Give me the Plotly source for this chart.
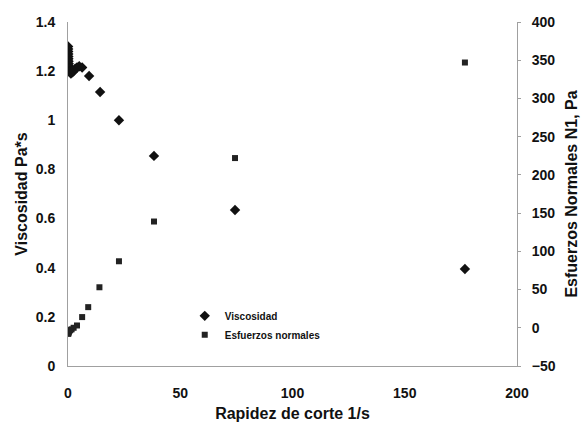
import plotly.graph_objects as go

# Viscosity vs shear rate
shear_visc = [0.05, 0.08, 0.1, 0.13, 0.16, 0.2, 0.25, 0.32, 0.4, 0.5, 0.63, 0.8, 1.0,
              1.3, 1.6, 2.0, 2.5, 3.2, 4.0, 5.0, 6.3, 9.4, 14.3, 22.7, 38.3, 74.4, 176.8]
viscosity = [1.30, 1.29, 1.28, 1.27, 1.26, 1.25, 1.24, 1.23, 1.22, 1.21, 1.21, 1.20, 1.20,
             1.19, 1.20, 1.195, 1.20, 1.21, 1.215, 1.22, 1.215, 1.18, 1.115, 1.0, 0.855, 0.635, 0.395]

# Normal stresses vs shear rate
shear_n1 = [0.1, 0.16, 0.25, 0.4, 0.63, 1.0, 1.6, 2.5, 4.0, 6.3, 9.0, 14.0, 22.7, 38.3, 74.4, 176.8]
normal_n1 = [-8, -7, -6, -5, -4, -3, -2, 0, 3, 14, 27, 53, 87, 139, 222, 347]

x_ticks = [0, 50, 100, 150, 200]

FONT = "Liberation Sans, Arial, sans-serif"
INK = "#111111"
AXC = "#a0a0a0"

fig = go.Figure()
fig.add_trace(go.Scatter(
    x=shear_visc, y=viscosity, mode="markers", name="Viscosidad",
    marker=dict(symbol="diamond", size=8, color=INK), yaxis="y"))
fig.add_trace(go.Scatter(
    x=shear_n1, y=normal_n1, mode="markers", name="Esfuerzos normales",
    marker=dict(symbol="square", size=6, color="#222222"), yaxis="y2"))

tickfont = dict(family=FONT, size=14, color=INK, weight="bold")
titlefont = dict(family=FONT, size=16, color=INK, weight="bold")

fig.update_layout(
    width=581, height=424,
    margin=dict(l=68, r=64, t=22, b=58),
    paper_bgcolor="white", plot_bgcolor="white",
    showlegend=True,
    legend=dict(x=0.26, y=0.188, xanchor="left", yanchor="top",
                font=dict(family=FONT, size=10, color=INK, weight="bold"),
                bgcolor="rgba(0,0,0,0)", itemwidth=30, tracegroupgap=0),
    xaxis=dict(range=[0, 200], tickvals=x_ticks, showgrid=False, zeroline=False,
               showline=True, linecolor=AXC, linewidth=1, ticks="", automargin=False,
               tickfont=tickfont, ticklabelstandoff=14,
               title=dict(text="Rapidez de corte 1/s", font=titlefont, standoff=8)),
    yaxis=dict(range=[0, 1.4], dtick=0.2, showgrid=False, zeroline=False,
               showline=True, linecolor=AXC, linewidth=1, ticks="", automargin=False,
               tickfont=tickfont, ticklabelstandoff=9,
               title=dict(text="Viscosidad Pa*s", font=titlefont, standoff=4)),
    yaxis2=dict(range=[-50, 400], dtick=50, overlaying="y", side="right",
                showgrid=False, zeroline=False, showline=True, linecolor=AXC,
                linewidth=1, ticks="outside", ticklen=3, tickcolor=AXC, automargin=False,
                tickfont=tickfont, ticklabelstandoff=8,
                title=dict(text="Esfuerzos Normales N1, Pa", font=titlefont, standoff=11)),
)

fig.write_html("out.html")
